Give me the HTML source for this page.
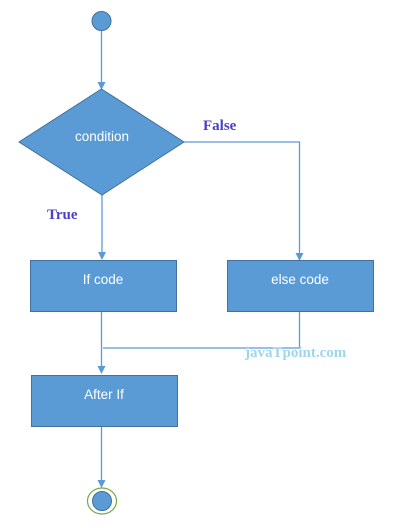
<!DOCTYPE html>
<html><head><meta charset="utf-8"><style>body{margin:0;background:#fff}svg{display:block}</style></head><body>
<svg width="401" height="528" viewBox="0 0 401 528" xmlns="http://www.w3.org/2000/svg">
<g stroke="#5b9bd5" stroke-width="1.3" fill="none">
<line x1="101.5" y1="31" x2="101.5" y2="84"/>
<polyline points="184,142 299.5,142 299.5,254"/>
<line x1="102" y1="195" x2="102" y2="254"/>
<polyline points="299.5,312 299.5,348 103,348"/>
<line x1="101.5" y1="311" x2="101.5" y2="368"/>
<line x1="101.5" y1="426" x2="101.5" y2="482"/>
</g>
<g fill="#5b9bd5">
<polygon points="97.5,82 105.5,82 101.5,90"/>
<polygon points="295.5,253 303.5,253 299.5,261"/>
<polygon points="98,252 106,252 102,260"/>
<polygon points="97.5,366 105.5,366 101.5,374"/>
<polygon points="97.5,480 105.5,480 101.5,488"/>
</g>
<circle cx="101.5" cy="21" r="9.5" fill="#5b9bd5" stroke="#41719c" stroke-width="1"/>
<polygon points="101.5,89 184,142 102,195 19,142" fill="#5b9bd5" stroke="#41719c" stroke-width="1"/>
<rect x="30.5" y="260.5" width="146" height="51" fill="#5b9bd5" stroke="#41719c" stroke-width="1"/>
<rect x="227.5" y="260.5" width="146" height="51" fill="#5b9bd5" stroke="#41719c" stroke-width="1"/>
<rect x="31.5" y="375.5" width="146" height="51" fill="#5b9bd5" stroke="#41719c" stroke-width="1"/>
<ellipse cx="102" cy="501" rx="14.5" ry="13" fill="none" stroke="#70ad47" stroke-width="1.2"/>
<circle cx="102" cy="501" r="9.5" fill="#5b9bd5" stroke="#41719c" stroke-width="1"/>
<g font-family="'Liberation Sans',sans-serif" font-size="13.5" fill="#fff" text-anchor="middle">
<text x="102" y="141">condition</text>
<text x="103" y="284">If code</text>
<text x="300" y="284">else code</text>
<text x="104" y="399">After If</text>
</g>
<g font-family="'Liberation Serif',serif" font-weight="bold" font-size="15" fill="#4b3fc8">
<text x="203" y="130">False</text>
<text x="47" y="219">True</text>
</g>
<text x="245" y="357" font-family="'Liberation Serif',serif" font-weight="bold" font-size="15" fill="#9fd6ec">javaTpoint.com</text>
</svg>
</body></html>
